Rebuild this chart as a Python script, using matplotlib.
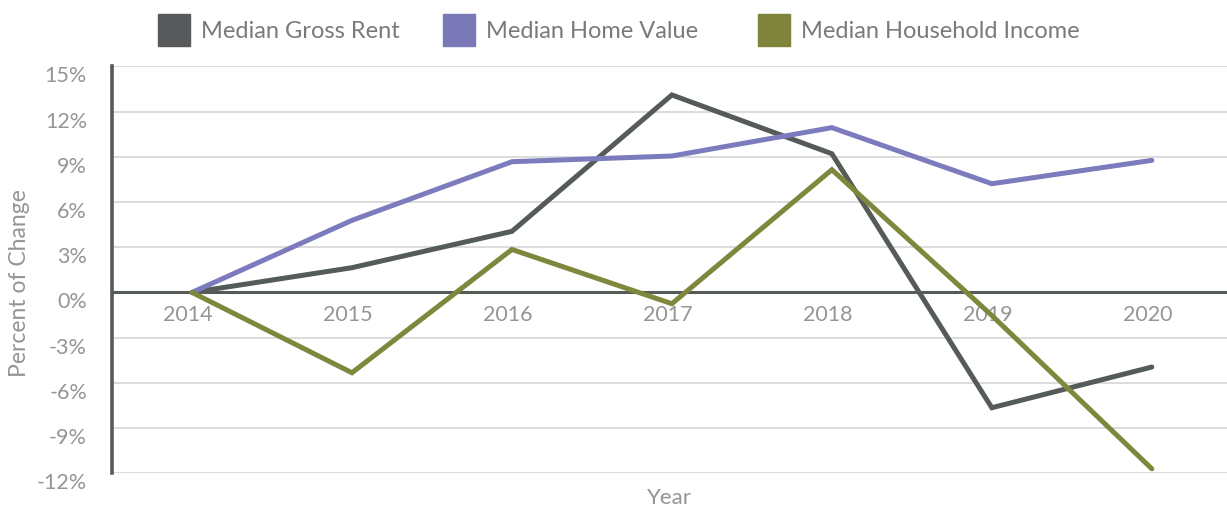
import numpy as np
import matplotlib
matplotlib.use("Agg")
import matplotlib.pyplot as plt
import matplotlib.transforms as mtransforms
from matplotlib.patches import Rectangle
from matplotlib.ticker import FuncFormatter

plt.rcParams['font.family'] = ['Lato', 'DejaVu Sans']

years = ['2014', '2015', '2016', '2017', '2018', '2019', '2020']
gross_rent = [0.0, 1.64, 4.05, 13.1, 9.2, -7.65, -4.95]
home_value = [0.0, 4.78, 8.67, 9.05, 10.93, 7.21, 8.76]
household_income = [0.0, -5.33, 2.85, -0.75, 8.14, -1.53, -11.7]

series_names = ['Median Gross Rent', 'Median Home Value', 'Median Household Income']
line_colors = ['#555b56', '#7b7bbd', '#7f873c']
swatch_colors = ['#58595b', '#7b78b8', '#7f843c']

text_gray = '#959595'

W, H = 1227, 510
fig = plt.figure(figsize=(W / 100, H / 100), dpi=100)
ax = fig.add_axes([112 / W, 1 - 474.3 / H, (W - 112) / W, (474.3 - 67.3) / H])

x = np.arange(len(years))
for vals, c in zip([gross_rent, home_value, household_income], line_colors):
    ax.plot(x, vals, color=c, lw=3.6, solid_capstyle='round', solid_joinstyle='miter', zorder=3)

ax.set_xlim(-0.5, 6.47)
ax.set_ylim(-12, 15)
ax.set_yticks(np.arange(-12, 16, 3))
ax.yaxis.set_major_formatter(FuncFormatter(lambda v, p: f'{int(v)}%'))
ax.grid(axis='y', color='#d9d9d9', lw=1.3, zorder=0)
ax.set_axisbelow(True)

ax.set_xticks(x)
ax.set_xticklabels(years)

for s in ['top', 'right']:
    ax.spines[s].set_visible(False)
ax.spines['bottom'].set_position(('data', 0))
ax.spines['bottom'].set_color('#555b56')
ax.spines['bottom'].set_linewidth(2.2)
ax.spines['bottom'].set_zorder(2)
ax.spines['left'].set_color('#555b56')
ax.spines['left'].set_linewidth(2.6)

ax.tick_params(axis='both', length=0, labelsize=15.5, labelcolor=text_gray)
ax.tick_params(axis='x', pad=8)
ax.tick_params(axis='y', pad=18)

# y tick labels sit a little below their gridlines, x labels a touch left
y_shift = mtransforms.ScaledTranslation(0, -7 / 100, fig.dpi_scale_trans)
for lab in ax.get_yticklabels():
    lab.set_transform(lab.get_transform() + y_shift)
x_shift = mtransforms.ScaledTranslation(-4 / 100, 0, fig.dpi_scale_trans)
for lab in ax.get_xticklabels():
    lab.set_transform(lab.get_transform() + x_shift)

ax.set_xlabel('Year', fontsize=16, color=text_gray)
ax.xaxis.set_label_coords(0.5, -0.033)
ax.set_ylabel('Percent of Change', fontsize=16.5, color=text_gray)
ax.yaxis.set_label_coords(-0.0735, 0.47)

# legend row across the top
swatch_x = [158, 443, 758]
for sx, name, c in zip(swatch_x, series_names, swatch_colors):
    fig.patches.append(Rectangle((sx / W, 1 - 47 / H), 32 / W, 32 / H,
                                 transform=fig.transFigure, color=c))
    fig.text((sx + 43) / W, 1 - 32 / H, name, fontsize=17, color='#7a7a7a',
             va='center', ha='left')

fig.savefig('out.png', dpi=100)
